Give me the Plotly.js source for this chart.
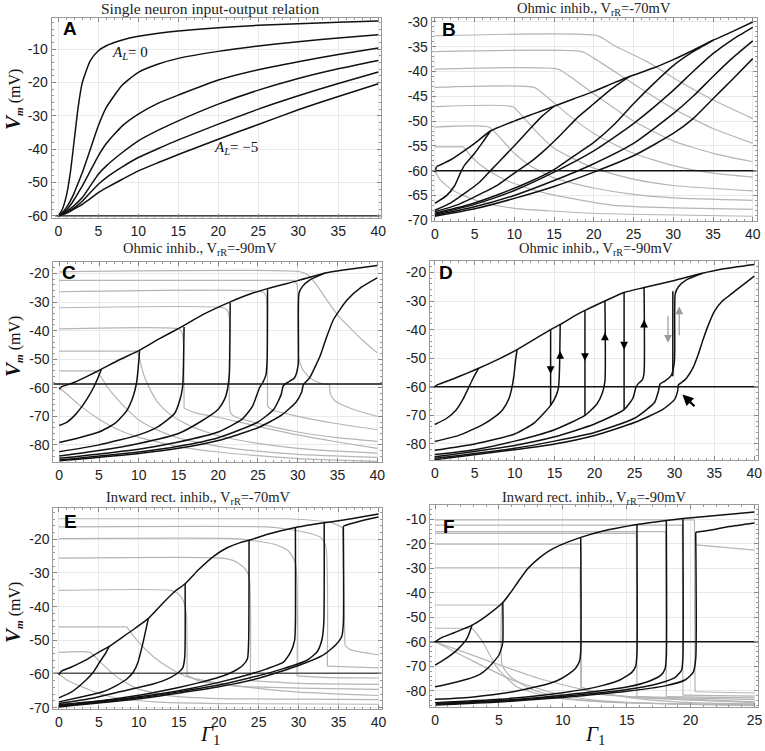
<!DOCTYPE html>
<html><head><meta charset="utf-8">
<script src="https://cdn.plot.ly/plotly-3.0.1.min.js"></script>
<style>html,body{margin:0;padding:0;background:#fff}#chart{width:765px;height:751px}</style>
</head><body><div id="chart"></div>
<script>
// ---------- Panel A ----------
const A_x=[0,0.5,1,1.5,2,2.5,3,4,5,6,8,10,12.5,15,20,25,30,35,40];
const A_curves=[
 [-60,-58,-54,-47,-37,-27,-20,-13.5,-10.5,-9,-7.3,-6.2,-5.3,-4.6,-3.6,-2.9,-2.4,-2,-1.6],
 [-60,-59,-57.5,-55.5,-53,-50,-47,-40,-33,-27.5,-20.8,-17,-14.5,-12.8,-10.7,-9.1,-7.8,-6.7,-5.7],
 [-60,-59.2,-58.2,-56.8,-55,-53,-51,-46.5,-42,-38.3,-33,-29.5,-26.2,-23.8,-19.3,-16.2,-13.8,-11.6,-9.7],
 [-60,-59.4,-58.7,-57.8,-56.8,-55.7,-54.5,-51,-47.5,-45,-41,-37.5,-34.3,-31.5,-26.5,-22.3,-18.8,-15.9,-13.4],
 [-60,-59.5,-59,-58.3,-57.5,-56.6,-55.6,-53,-50.5,-48.5,-45.3,-42.5,-39.8,-37.2,-32.5,-28,-24,-20.3,-16.9],
 [-60,-59.6,-59.2,-58.6,-57.9,-57.2,-56.5,-54.8,-53,-51.6,-49,-46.5,-44,-41.6,-37,-32.6,-28.2,-24.2,-20.4]
];
const A_rest=[[-0.4,-60],[40.3,-60]];
const A_labels=[{x:8.9,y:-11.3,t:'<i>A<sub>L</sub></i>= 0'},{x:22.2,y:-39.5,t:'<i>A<sub>L</sub></i>= \u22125'}];

// ---------- Panel B ----------
const B_black=[
 [[0,-60.3],[0.2,-59.2],[1,-58.6],[2,-57.8],[3.5,-56.2],[5,-54.5],[7,-52],[10,-50],[12.5,-48.5],[15,-47],[17.5,-45.5],[20,-44],[22.5,-42.3],[24.5,-41],[27.5,-39.3],[30,-37.6],[32.5,-35.7],[35,-33.7],[37.5,-31.9],[40,-30]],
 [[0,-66.6],[1.5,-65],[2.5,-63],[3.2,-60.5],[3.7,-59],[5,-56.5],[6,-54.3],[7,-52]],
 [[0,-68],[2,-66.5],[4,-64.3],[5.5,-62.5],[7,-60],[8.5,-57.5],[10,-55],[12,-51.5],[13.5,-49],[15,-47]],
 [[0,-68.3],[3,-66.8],[6,-64.5],[8,-62.8],[10,-60.5],[12,-58.3],[14,-55.6],[16,-52.5],[18,-49.2],[20,-46.5],[22,-43.8],[24.5,-41]],
 [[0,-68.6],[4,-67],[8,-64.8],[12,-62.2],[15,-59.8],[18,-56.5],[20,-54.3],[22.5,-50.8],[25,-46.5],[27.5,-42.5],[30,-38.8],[32.5,-36],[35,-33.7]],
 [[0,-68.8],[5,-66.8],[10,-64],[15,-60.3],[20,-56],[25,-50.5],[30,-43.8],[32.5,-40],[35,-36.4],[37.5,-33.5],[40,-31.1]],
 [[0,-69],[5,-67.3],[10,-65],[15,-62],[20,-58.6],[25,-54.5],[30,-48.5],[32.5,-45],[35,-41],[37.5,-37.2],[40,-33.8]],
 [[0,-69.2],[5,-67.7],[10,-65.6],[15,-63.2],[20,-60.3],[25,-57],[30,-52.5],[32.5,-49.5],[35,-45.5],[37.5,-41.5],[40,-37.4]],
 [[-0.4,-60],[40.5,-60]]
];
const B_gray=[
 [[0,-32.8],[20.5,-32.8],[22.5,-34.7],[26.7,-38],[30.9,-42.1],[35.1,-45.8],[40,-49.5]],
 [[0,-36],[18.5,-36],[20,-37.3],[25,-42.5],[30,-47.5],[35,-51.5],[40,-54.5]],
 [[0,-39.5],[15.5,-39.5],[17,-41],[20,-44.5],[25,-50],[30,-54],[35,-56.5],[40,-58.2]],
 [[0,-43.2],[12.5,-43.2],[14,-45],[17,-49],[20,-52.5],[25,-56.5],[30,-59],[35,-60.5],[40,-61.3]],
 [[0,-47.1],[9.8,-47.1],[11,-49],[13,-52.5],[15,-55.5],[20,-59.5],[25,-61.7],[30,-63],[40,-64.1]],
 [[0,-51.2],[6.8,-51.2],[8,-53],[10,-56.5],[12,-59],[15,-61.5],[20,-63.5],[25,-64.8],[30,-65.5],[40,-66]],
 [[0,-55.2],[3.6,-55.2],[4.5,-57],[5.7,-58.8],[8,-61.2],[10,-62.6],[14,-64.6],[22.5,-67],[30,-67.5],[40,-67.8]],
 [[0,-60],[0.6,-61.7],[2,-63.7],[4,-65.3],[6.5,-66.6],[10,-67.6],[20,-68.6],[40,-69.2]]
];

// ---------- Panel C ----------
const C_black=[
 [[0,-60.5],[0.3,-59.6],[1,-59],[2,-58],[3.5,-56],[5.3,-53.5],[7.5,-50.3],[10,-47],[12.5,-43],[15.5,-38.5],[18,-34.5],[21.3,-30.2],[24,-27.2],[26.2,-25.3],[30,-22.5],[33.5,-19.8],[36,-18.7],[40,-17.2]],
 [[0,-73.2],[1,-72],[2,-69.5],[3,-66],[3.8,-62.5],[4.3,-60],[4.8,-57],[5.3,-53.5]],
 [[0,-79.2],[2.5,-77.5],[5,-75.5],[7,-72.5],[8.5,-68],[9.3,-63],[9.7,-58.6],[9.9,-54],[10.1,-47.2]],
 [[0,-82.4],[5,-80],[10,-76.5],[12.5,-73.5],[14.5,-69],[15.2,-64],[15.5,-60],[15.6,-55],[15.7,-38.7]],
 [[0,-83.9],[5,-82],[10,-79.5],[15,-76],[17.7,-72],[20,-67.5],[20.8,-64],[21.2,-60],[21.4,-55],[21.5,-30.3]],
 [[0,-84.7],[10,-81.5],[15,-79],[20,-75.5],[23,-71],[24.3,-66.5],[25.2,-60],[25.6,-58.2],[26,-55.5],[26.15,-50],[26.2,-25.5]],
 [[0,-85.3],[10,-82.5],[15,-80.5],[20,-77.5],[25,-72],[27,-67.5],[27.9,-62.5],[28.2,-59.2],[28.8,-58],[29.6,-56.5],[30.05,-52],[30.15,-27],[30.6,-24.5],[31.5,-22.3],[33.5,-19.8]],
 [[0,-85.6],[10,-83],[15,-81.2],[20,-78.5],[25,-74],[28,-69.5],[29.8,-65],[30.5,-61.5],[30.7,-59],[31.5,-56.5],[32.3,-52],[32.8,-49],[33.6,-42.5],[34.5,-36.1],[36.2,-29.3],[38,-24.8],[40,-21.5]],
 [[-0.75,-58.7],[40.6,-58.7]]
];
const C_gray=[
 [[0,-19.4],[30.3,-19.4],[31.3,-20.6],[32.5,-24.5],[33.6,-29],[35,-34.5],[36.6,-39.1],[38.3,-43.7],[40,-47.8]],
 [[0,-22.4],[29.6,-22.4],[29.9,-24],[30,-27],[30.1,-49],[30.6,-53.5],[31.5,-56.5],[32.8,-58.4],[34,-58.9],[34.15,-62.5],[34.8,-64.8],[36,-66.5],[38,-68.5],[40,-70]],
 [[0,-26.4],[25.5,-26.4],[25.95,-27.5],[26.1,-30],[26.2,-66.5],[26.8,-67.8],[30,-70],[35,-72.6],[40,-74.7]],
 [[0,-32],[20.6,-32],[21.15,-33],[21.4,-36],[21.5,-68.5],[22,-70],[25,-72.5],[30,-75.5],[35,-77.5],[40,-78.8]],
 [[0,-39.4],[15,-39.4],[15.4,-40.5],[15.6,-43],[15.7,-67.2],[17,-68.7],[20.3,-70.5],[25,-73.5],[30,-76.5],[35,-79],[40,-81.2]],
 [[0,-47.2],[9.7,-47.2],[10,-48.5],[10.2,-51],[10.7,-56],[11.5,-61],[12.5,-65.5],[14,-69.5],[16.8,-73.8],[20.3,-77],[25,-79.5],[30,-81.2],[35,-82.2],[40,-82.9]],
 [[0,-54.1],[4.6,-54.1],[5.2,-56],[6,-59.5],[7,-63],[8.5,-67.5],[10,-71.3],[12.5,-75],[15,-77.6],[20,-80.5],[25,-82.2],[30,-83.3],[40,-84.4]],
 [[0,-60],[1,-62.3],[2.5,-66],[5,-71],[7.5,-74.8],[10,-77.4],[15,-80.6],[20,-82.5],[25,-83.8],[30,-84.8],[40,-85.8]]
];

// ---------- Panel D ----------
const D_black=[
 [[0,-60],[0.3,-59.3],[1,-58.6],[2.5,-57],[4,-55.3],[5.5,-53.5],[8,-50.3],[10.3,-47],[12.5,-43.3],[14.5,-40],[15.7,-38.2],[17.5,-35.2],[18.8,-33.3],[21.3,-30],[23.7,-27],[26.2,-25.3],[30,-22.8],[33.5,-20.3],[36,-18.8],[40,-17.2]],
 [[0,-73.2],[1.5,-71],[2.7,-68],[3.5,-64.5],[4.2,-60.5],[4.8,-57],[5.5,-53.5]],
 [[0,-79.1],[3,-77],[6,-73.2],[7.5,-70.5],[8.5,-68],[9.3,-64],[9.6,-61],[9.9,-56.3],[10.1,-51],[10.3,-47]],
 [[0,-82.2],[5,-80],[10,-76.5],[12.5,-72.5],[14.5,-66.5],[15.2,-63],[15.5,-60],[15.6,-55],[15.7,-38.2]],
 [[14.5,-40],[14.5,-66.5]],
 [[0,-83.7],[5,-82],[10,-79],[15,-75],[18.8,-70],[20.3,-66],[21,-62],[21.3,-58],[21.3,-30]],
 [[18.8,-33.3],[18.8,-70]],
 [[0,-84.5],[10,-80.5],[15,-77.5],[20,-73],[23.7,-68],[24.8,-64],[25.2,-60],[25.5,-58.8],[26,-57.5],[26.2,-55],[26.2,-25.3]],
 [[23.7,-27],[23.7,-68]],
 [[0,-85],[10,-81.5],[15,-79],[20,-76],[25,-71],[27.5,-65.5],[28,-61.5],[28.2,-59],[28.8,-58],[29.6,-56],[30,-51],[30.1,-27.5],[30.5,-25],[31.5,-22.6],[33.5,-20.3]],
 [[29.8,-26.6],[29.8,-56.3]],
 [[0,-85.5],[10,-82],[15,-80],[20,-77],[25,-72.5],[28.5,-68],[30,-64.5],[30.4,-61.5],[30.5,-59.3],[31,-58.3],[31.5,-57],[32.3,-53.5],[33,-48.5],[33.6,-43.4],[34.3,-38],[35,-33.6],[36,-30],[37.1,-27.6],[38.5,-24.5],[40,-21.3]],
 [[-0.6,-60],[40.5,-60]]
];
// arrowheads on the jumps: [x, yHead, direction(+1 up / -1 down)]
const D_arrows=[[14.5,-55.5,-1],[15.7,-47.5,1],[18.8,-51,-1],[21.3,-41,1],[23.7,-47,-1],[26.2,-36.5,1]];
const D_grayArrows=[[29.2,-34.8,-44.6],[30.6,-42.5,-31.9]];
const D_pointer=[[32.7,-67.3],[31.0,-62.7]];

// ---------- Panel E ----------
const E_black=[
 [[0,-60.3],[0.3,-59.2],[1.5,-58],[3.4,-55.8],[5,-53.5],[6.3,-51.8],[8,-49],[9.5,-46.5],[11.2,-43.5],[13,-39],[14.5,-35.5],[15.8,-33.2],[17.5,-29],[19.4,-25],[21,-22.6],[22.7,-21],[23.8,-20.3],[26,-18.6],[29.6,-16.5],[33.2,-15.1],[35.6,-14.3],[38,-13.3],[40,-12.5]],
 [[0,-67.1],[1.5,-65.5],[3.4,-61.8],[4.3,-59.5],[5.1,-56.5],[5.8,-54],[6.3,-51.8]],
 [[0,-68.3],[2.5,-67],[5.5,-65.3],[7.3,-63.3],[8.5,-61.5],[9.3,-59.5],[9.9,-56.5],[10.5,-51],[11.2,-43.5]],
 [[0,-68.8],[4,-67.3],[7.6,-65.3],[11.8,-63],[14,-61],[15,-59.5],[15.5,-58.2],[15.75,-55],[15.8,-33.2]],
 [[0,-69.1],[5,-68],[10,-66.3],[15,-64],[17.7,-62.5],[20,-61],[21.9,-59.2],[23,-57.5],[23.6,-55.5],[23.75,-50],[23.8,-20.3]],
 [[0,-69.4],[10,-66.8],[15,-65],[20,-62.5],[24,-60],[26,-58.5],[28.1,-56.5],[29,-53.5],[29.5,-50],[29.6,-45],[29.6,-16.5]],
 [[0,-69.6],[10,-67.1],[20,-63.3],[25,-60.5],[28,-58.5],[31,-56],[32.3,-53.5],[32.9,-50],[33.15,-45],[33.2,-15.1]],
 [[0,-69.8],[10,-67.4],[20,-63.8],[25,-61.3],[30,-57.5],[33,-54.5],[34.6,-51.5],[35.4,-48.9],[35.6,-45],[35.6,-16.1],[36.5,-15.4],[38,-14.4],[40,-13.4]]
];
const E_rest=[[-0.7,-59.8],[40.4,-59.8]];
const E_gray=[
 [[0,-13.9],[28.5,-13.9],[31,-14.2],[34,-15],[35.5,-16.5],[35.8,-51.5],[36.5,-52.8],[40,-54.3]],
 [[0,-16.3],[26,-16.3],[28,-16.8],[31,-18],[32.8,-19.5],[33.4,-22],[33.6,-57.7],[40,-58.2]],
 [[0,-19.8],[22,-19.8],[24,-20.3],[27,-21.5],[28.7,-23.4],[29.6,-27],[29.8,-60.6],[33,-61],[40,-61.2]],
 [[0,-25.6],[20.4,-25.6],[22,-26.5],[23.2,-28.5],[23.8,-31],[23.95,-62],[30,-62.8],[40,-63.1]],
 [[0,-35.2],[14,-35.2],[15,-36.3],[15.6,-38.5],[15.95,-42],[16.05,-60.5],[17.7,-62.2],[22,-63.6],[30,-64.2],[40,-64.6]],
 [[0,-46],[8.5,-46],[9.7,-49.8],[11.8,-54.8],[13.9,-58.3],[16,-60.8],[20.2,-62.8],[25,-64.3],[30,-65.4],[40,-66.4]],
 [[0,-53.6],[3.9,-53.6],[5.1,-56.3],[7.2,-60.8],[9.7,-64.3],[13.9,-66.5],[20.2,-67.3],[30,-67.5],[40,-67.6]],
 [[0,-60],[1,-61.8],[2,-63],[3.4,-64.3],[5,-65.8],[7.6,-67.3],[12,-68.3],[20,-68.8],[40,-69]]
];

// ---------- Panel F ----------
const F_black=[
 [[0,-60],[0.4,-58.6],[1.5,-56.3],[2.9,-53.2],[4,-49.5],[5.3,-44],[5.9,-40],[6.5,-35.5],[7.2,-30.5],[8,-26.5],[8.8,-23.3],[9.8,-20.6],[11.4,-17.4],[13,-15],[15.8,-12.2],[18.1,-10.5],[19.4,-9.7],[22,-8.5],[25,-7.1]],
 [[0,-69.5],[0.8,-67],[1.7,-63.4],[2.5,-58.6],[2.9,-53.2]],
 [[0,-78.4],[1.2,-77],[2.5,-75.3],[3.5,-73.3],[4.1,-70.9],[4.7,-67.5],[5,-65.4],[5.2,-62.5],[5.3,-60],[5.3,-44]],
 [[0,-83.5],[3,-82.5],[6,-80.5],[8,-78.3],[9.5,-76],[10.5,-73],[11,-70.8],[11.3,-68],[11.4,-64],[11.4,-17.4]],
 [[0,-84.9],[5,-83.5],[10,-80.8],[13,-78],[14.5,-75.5],[15.4,-72.5],[15.7,-70],[15.8,-65],[15.8,-12.2]],
 [[0,-85.2],[5,-84],[10,-81.8],[15,-78.5],[16.8,-76],[17.7,-73.5],[18,-71],[18.1,-66],[18.1,-10.5]],
 [[0,-85.5],[5,-84.3],[10,-82.3],[15,-79.5],[17.5,-77],[18.8,-74.5],[19.3,-71.5],[19.4,-66],[19.4,-9.7]],
 [[0,-85.8],[5,-84.6],[10,-82.7],[15,-80.2],[18,-78],[19.6,-75.5],[20.2,-72.5],[20.4,-67],[20.4,-15.3],[21.5,-14.5],[23,-13],[25,-11.5]],
 [[-0.4,-60],[25.3,-60]]
];
const F_gray=[
 [[0,-10.3],[20.3,-10.3],[20.35,-80.4],[25,-80.9]],
 [[20.45,-20.5],[25,-22.6]],
 [[0,-12.4],[19.35,-12.4],[19.4,-81.8],[25,-82.2]],
 [[0,-15.1],[18.05,-15.1],[18.1,-82.4],[25,-82.9]],
 [[0,-15.8],[15.75,-15.8],[15.8,-82.4],[25,-83.6]],
 [[0,-20.2],[11.4,-20.2],[11.45,-79.2],[13,-81.5],[25,-84.5]],
 [[0,-29.8],[11.35,-29.8],[11.4,-78.5],[13,-81],[16,-82.8],[25,-84.8]],
 [[0,-45],[5.2,-45],[5.25,-69.5],[5.9,-74.3],[7.7,-79.7],[10.3,-83.1],[15,-84.8],[25,-85.6]],
 [[0,-54.5],[2.9,-54.5],[3.3,-57],[3.8,-60.7],[4.8,-70.2],[6.4,-78.4],[9,-82.5],[13,-84.5],[25,-85.9]],
 [[0,-60],[3,-68],[6,-75.5],[9,-80.5],[12,-83.5],[16,-85],[25,-86.1]],
 [[0,-60],[4,-67.5],[8,-74.8],[12,-80],[16,-83.3],[20,-84.8],[25,-85.3]]
];

// ---------- tick values ----------
const X40_ticks=[0,5,10,15,20,25,30,35,40];
const X25_ticks=[0,5,10,15,20,25];
const A_yticks=[-60,-50,-40,-30,-20,-10];
const B_yticks=[-70,-65,-60,-55,-50,-45,-40,-35,-30];
const CD_yticks=[-80,-70,-60,-50,-40,-30,-20];
const E_yticks=[-70,-60,-50,-40,-30,-20];
const F_yticks=[-80,-70,-60,-50,-40,-30,-20,-10];

const titles=['Single neuron input-output relation','Ohmic inhib., V<sub>rR</sub>=-70mV','Ohmic inhib., V<sub>rR</sub>=-90mV','Ohmic inhib., V<sub>rR</sub>=-90mV','Inward rect. inhib., V<sub>rR</sub>=-70mV','Inward rect. inhib., V<sub>rR</sub>=-90mV'];
const letters=['A','B','C','D','E','F'];

// ---------- layout geometry (pixels) ----------
const W=765,H=751;
const panels=[
 {xp:[51.7,380.7],xr:[-0.83,40.3],yp:[18,218.3],yr:[-60.7,-0.7],xt:X40_ticks,yt:A_yticks,ym:2,xm:1,title:[210,8.5],tfs:15.5,let:[70,28.5]},
 {xp:[431.7,756.7],xr:[-0.4,40.5],yp:[18,220.7],yr:[-70.1,-29.2],xt:X40_ticks,yt:B_yticks,ym:1,xm:1,title:[594,8.5],tfs:14.5,let:[449,30]},
 {xp:[53.3,382],xr:[-0.75,40.6],yp:[261.5,462],yr:[-86,-15.8],xt:X40_ticks,yt:CD_yticks,ym:2,xm:1,title:[200,248.5],tfs:14.5,let:[68.5,272.5]},
 {xp:[430,758.3],xr:[-0.6,40.5],yp:[260.7,460],yr:[-85.6,-15.9],xt:X40_ticks,yt:CD_yticks,ym:2,xm:1,title:[596,248.5],tfs:14.5,let:[446,272.5]},
 {xp:[53.3,381.7],xr:[-0.7,40.4],yp:[508.3,709.3],yr:[-70.5,-10.8],xt:X40_ticks,yt:E_yticks,ym:2,xm:1,title:[198,497.5],tfs:14.5,let:[70,521]},
 {xp:[430,758.3],xr:[-0.4,25.3],yp:[505,706.7],yr:[-86.5,-4.2],xt:X25_ticks,yt:F_yticks,ym:2,xm:1,title:[594,497.5],tfs:14.5,let:[449,526]}
];

const BLACK='#111', GRAY='#b5b5b5';
const traces=[];
// split a polyline where it turns sharply (in screen space) so the spline keeps the corners
function pieces(pts,p){
  const sx=(p.xp[1]-p.xp[0])/(p.xr[1]-p.xr[0]), sy=(p.yp[1]-p.yp[0])/(p.yr[1]-p.yr[0]);
  const out=[];let cur=[pts[0]];
  for(let k=1;k<pts.length;k++){
    cur.push(pts[k]);
    if(k<pts.length-1){
      const a=[(pts[k][0]-pts[k-1][0])*sx,(pts[k][1]-pts[k-1][1])*sy];
      const b=[(pts[k+1][0]-pts[k][0])*sx,(pts[k+1][1]-pts[k][1])*sy];
      const c=(a[0]*b[0]+a[1]*b[1])/(Math.hypot(a[0],a[1])*Math.hypot(b[0],b[1]));
      if(c<Math.cos(48*Math.PI/180)){out.push(cur);cur=[pts[k]];}
    }
  }
  out.push(cur);return out;
}
function addCurve(pts,i,color,width){
  const s=i===0?'':String(i+1);
  pieces(pts,panels[i]).forEach(seg=>{
    traces.push({x:seg.map(q=>q[0]),y:seg.map(q=>q[1]),xaxis:'x'+s,yaxis:'y'+s,type:'scatter',mode:'lines',
      line:{color:color,width:width,shape:seg.length>2?'spline':'linear',smoothing:0.55},hoverinfo:'skip',showlegend:false});
  });
}
A_curves.forEach(c=>addCurve(A_x.map((x,k)=>[x,c[k]]),0,BLACK,1.5));
addCurve(A_rest,0,BLACK,1.3);
B_gray.forEach(c=>addCurve(c,1,GRAY,1.2));
B_black.forEach(c=>addCurve(c,1,BLACK,1.5));
C_gray.forEach(c=>addCurve(c,2,GRAY,1.2));
C_black.forEach(c=>addCurve(c,2,BLACK,1.5));
D_black.forEach(c=>addCurve(c,3,BLACK,1.5));
E_gray.forEach(c=>addCurve(c,4,GRAY,1.2));
addCurve(E_rest,4,'#555',1.4);
E_black.forEach(c=>addCurve(c,4,BLACK,1.5));
F_gray.forEach(c=>addCurve(c,5,GRAY,1.2));
F_black.forEach(c=>addCurve(c,5,BLACK,1.5));

const layout={width:W,height:H,margin:{l:0,r:0,t:0,b:0},paper_bgcolor:'#fff',plot_bgcolor:'#fff',showlegend:false,annotations:[]};
panels.forEach((p,i)=>{
  const s=i===0?'':String(i+1);
  const common={ticks:'inside',ticklen:4,tickwidth:1,tickcolor:'#888',showline:true,linecolor:'#9a9a9a',linewidth:1,mirror:'ticks',
    showgrid:true,gridcolor:'#e9e9e9',gridwidth:1,zeroline:false,fixedrange:true,
    tickfont:{family:'Liberation Sans, Arial, sans-serif',size:14,color:'#222'}};
  layout['xaxis'+s]=Object.assign({},common,{domain:[p.xp[0]/W,p.xp[1]/W],range:p.xr,anchor:'y'+s,
    tickmode:'array',tickvals:p.xt,ticktext:p.xt.map(String),
    minor:{tick0:0,dtick:p.xm,ticks:'inside',ticklen:2,tickcolor:'#999',showgrid:false}});
  layout['yaxis'+s]=Object.assign({},common,{domain:[1-p.yp[1]/H,1-p.yp[0]/H],range:p.yr,anchor:'x'+s,
    tickmode:'array',tickvals:p.yt,ticktext:p.yt.map(String),
    minor:{tick0:0,dtick:p.ym,ticks:'inside',ticklen:2,tickcolor:'#999',showgrid:false}});
  layout.annotations.push({xref:'paper',yref:'paper',x:p.title[0]/W,y:1-p.title[1]/H,text:titles[i],showarrow:false,
    xanchor:'center',yanchor:'middle',font:{family:'Liberation Serif, Times New Roman, serif',size:p.tfs,color:'#222'}});
  layout.annotations.push({xref:'paper',yref:'paper',x:p.let[0]/W,y:1-p.let[1]/H,text:'<b>'+letters[i]+'</b>',showarrow:false,
    xanchor:'center',yanchor:'middle',font:{family:'Liberation Sans, Arial, sans-serif',size:19,color:'#000'}});
});
[100,347,613].forEach(yc=>{
  layout.annotations.push({xref:'paper',yref:'paper',x:13/W,y:1-yc/H,textangle:-90,showarrow:false,xanchor:'center',yanchor:'middle',
    text:'<span style="font-size:21px"><b><i>V</i></b></span><sub><b><i>m</i></b></sub> (mV)',
    font:{family:'Liberation Serif, Times New Roman, serif',size:16,color:'#111'}});
});
[[210,750],[595,750]].forEach(pp=>{
  layout.annotations.push({xref:'paper',yref:'paper',x:pp[0]/W,y:1-pp[1]/H,showarrow:false,xanchor:'center',yanchor:'bottom',
    text:'<i>\u0393</i><sub>1</sub>',font:{family:'Liberation Serif, Times New Roman, serif',size:21,color:'#111'}});
});
A_labels.forEach(l=>layout.annotations.push({xref:'x',yref:'y',x:l.x,y:l.y,text:l.t,showarrow:false,xanchor:'center',yanchor:'middle',
  font:{family:'Liberation Serif, Times New Roman, serif',size:15,color:'#111'}}));
D_arrows.forEach(a=>layout.annotations.push({xref:'x4',yref:'y4',axref:'x4',ayref:'y4',x:a[0],y:a[1],ax:a[0],ay:a[1]-a[2]*3,
  text:'',showarrow:true,arrowhead:2,arrowsize:1.3,arrowwidth:1.2,arrowcolor:'#000',standoff:0}));
D_grayArrows.forEach(a=>layout.annotations.push({xref:'x4',yref:'y4',axref:'x4',ayref:'y4',x:a[0],y:a[2],ax:a[0],ay:a[1],
  text:'',showarrow:true,arrowhead:2,arrowsize:1.3,arrowwidth:1.2,arrowcolor:'#999',standoff:0}));
layout.annotations.push({xref:'x4',yref:'y4',axref:'x4',ayref:'y4',x:D_pointer[1][0],y:D_pointer[1][1],ax:D_pointer[0][0],ay:D_pointer[0][1],
  text:'',showarrow:true,arrowhead:2,arrowsize:1,arrowwidth:2.2,arrowcolor:'#000',standoff:0});

Plotly.newPlot('chart',traces,layout,{staticPlot:true,displayModeBar:false});
</script></body></html>
